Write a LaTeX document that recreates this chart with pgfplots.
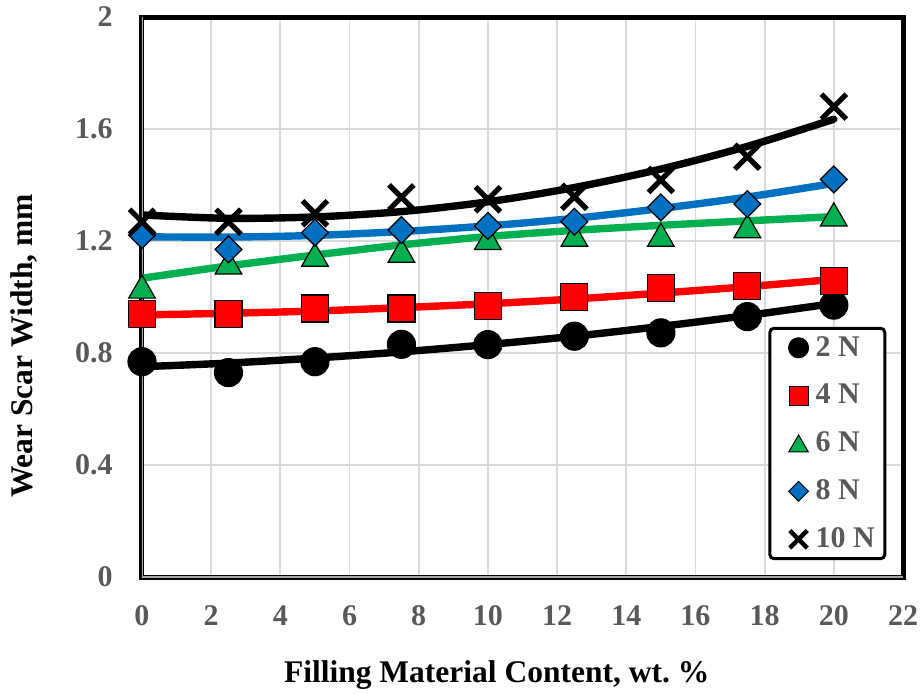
\documentclass[border=0pt]{standalone}
\usepackage{fontspec}
\setmainfont{Liberation Serif}
\usepackage{pgfplots}
\pgfplotsset{compat=1.18}
\definecolor{tickgray}{HTML}{595959}
\definecolor{gridgray}{HTML}{D9D9D9}
\definecolor{xlred}{HTML}{FF0000}
\definecolor{xlgreen}{HTML}{00B050}
\definecolor{xlblue}{HTML}{0070C0}
\begin{document}
\begin{tikzpicture}
\path[use as bounding box] (-71pt,-58pt) rectangle (389.5pt,288.5pt);
\begin{axis}[
  at={(0,0)}, anchor=south west,
  scale only axis, width=380.5pt, height=280pt,
  xmin=0, xmax=22, ymin=0, ymax=2,
  xtick={0,2,4,6,8,10,12,14,16,18,20,22},
  ytick={0,0.4,0.8,1.2,1.6,2},
  yticklabels={0,0.4,0.8,1.2,1.6,2},
  grid=major, major grid style={gridgray, line width=0.9pt},
  major tick length=0pt,
  axis line style={black, line width=2.5pt},
  /pgf/number format/assume math mode=true,
  tick label style={font=\fontsize{15}{18}\selectfont\bfseries, text=tickgray},
  xticklabel style={inner sep=0pt, anchor=north, yshift=-14pt},
  yticklabel style={inner sep=0pt, anchor=east, xshift=-14.5pt},
  xlabel={Filling Material Content, wt.\ \%},
  ylabel={Wear Scar Width, mm},
  every axis x label/.style={at={(axis description cs:0.466,0)}, anchor=base, yshift=-52.5pt, font=\fontsize{15.75}{19}\selectfont\bfseries},
  every axis y label/.style={at={(axis description cs:-0.1445,0.4125)}, rotate=90, anchor=base, font=\fontsize{15.75}{19}\selectfont\bfseries},
  legend style={at={(rel axis cs:0.978,0.030)}, anchor=south east, draw=black, line width=1.5pt, rounded corners=2pt,
    font=\fontsize{15}{18}\selectfont\bfseries, text=tickgray, inner xsep=3.5pt, inner ysep=2.5pt,
    nodes={inner sep=1.5pt}, row sep=9.5pt, column sep=2pt},
  legend cell align=left,
  legend image code/.code={\path (0pt,0pt) (12.6pt,0pt); \draw[#1] plot coordinates {(10.1pt,0pt)};},
]
% --- markers ---
\addplot[only marks, mark=*, mark size=7pt, mark options={fill=black, draw=black, line width=0.6pt}, forget plot]
coordinates {(0,0.769) (2.5,0.730) (5,0.769) (7.5,0.831) (10,0.830) (12.5,0.860) (15,0.872) (17.5,0.930) (20,0.971)};
\addplot[only marks, mark=square*, mark size=6.75pt, mark options={fill=xlred, draw=black, line width=0.6pt}, forget plot]
coordinates {(0,0.938) (2.5,0.938) (5,0.959) (7.5,0.959) (10,0.969) (12.5,0.999) (15,1.031) (17.5,1.039) (20,1.058)};
\addplot[only marks, mark=triangle*, mark size=7.7pt, mark options={fill=xlgreen, draw=black, line width=0.6pt, yshift=-1.9pt}, forget plot]
coordinates {(0,1.037) (2.5,1.123) (5,1.151) (7.5,1.165) (10,1.211) (12.5,1.222) (15,1.222) (17.5,1.253) (20,1.295)};
\addplot[only marks, mark=square*, mark size=4.75pt, mark options={rotate=45, fill=xlblue, draw=black, line width=0.6pt}, forget plot]
coordinates {(0,1.221) (2.5,1.170) (5,1.230) (7.5,1.239) (10,1.254) (12.5,1.269) (15,1.320) (17.5,1.332) (20,1.420)};
\addplot[only marks, mark=x, mark size=8.8pt, mark options={draw=black, line width=2.6pt}, forget plot]
coordinates {(0,1.269) (2.5,1.269) (5,1.299) (7.5,1.356) (10,1.349) (12.5,1.358) (15,1.418) (17.5,1.501) (20,1.680)};
% --- trend lines ---
\addplot[black, line width=3.7pt, smooth, line cap=round, no marks, forget plot]
coordinates {(0,0.751) (2.5,0.764) (5,0.782) (7.5,0.804) (10,0.830) (12.5,0.860) (15,0.895) (17.5,0.934) (20,0.977)};
\addplot[xlred, line width=3.7pt, smooth, line cap=round, no marks, forget plot]
coordinates {(0,0.936) (2.5,0.942) (5,0.950) (7.5,0.962) (10,0.976) (12.5,0.993) (15,1.014) (17.5,1.037) (20,1.063)};
\addplot[xlgreen, line width=3.7pt, smooth, line cap=round, no marks, forget plot]
coordinates {(0,1.067) (2.5,1.111) (5,1.150) (7.5,1.186) (10,1.216) (12.5,1.238) (15,1.256) (17.5,1.272) (20,1.287)};
\addplot[xlblue, line width=3.7pt, smooth, line cap=round, no marks, forget plot]
coordinates {(0,1.215) (2.5,1.214) (5,1.220) (7.5,1.234) (10,1.254) (12.5,1.281) (15,1.316) (17.5,1.357) (20,1.406)};
\addplot[black, line width=3.7pt, smooth, line cap=round, no marks, forget plot]
coordinates {(0,1.293) (2.5,1.281) (5,1.286) (7.5,1.305) (10,1.340) (12.5,1.391) (15,1.457) (17.5,1.538) (20,1.635)};
% inner grey line of the doubled left and bottom frame
\draw[gray!70, line width=0.7pt] (rel axis cs:0,1) -- (rel axis cs:0,0) -- (rel axis cs:1,0);
% --- legend ---
\addlegendimage{only marks, mark=*, mark size=5pt, mark options={fill=black, draw=black, line width=0.5pt}}
\addlegendimage{only marks, mark=square*, mark size=4.75pt, mark options={fill=xlred, draw=black, line width=0.5pt}}
\addlegendimage{only marks, mark=triangle*, mark size=5.6pt, mark options={fill=xlgreen, draw=black, line width=0.5pt, yshift=-1.4pt}}
\addlegendimage{only marks, mark=square*, mark size=3.5pt, mark options={rotate=45, fill=xlblue, draw=black, line width=0.5pt}}
\addlegendimage{only marks, mark=x, mark size=6.2pt, mark options={draw=black, line width=2.2pt}}
\legend{2 N, 4 N, 6 N, 8 N, 10 N}
\end{axis}
\end{tikzpicture}
\end{document}
